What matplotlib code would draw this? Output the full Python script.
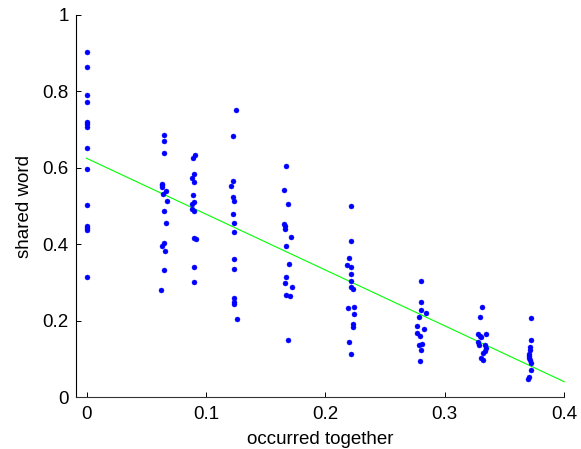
import numpy as np
import matplotlib
matplotlib.use("Agg")
import matplotlib.pyplot as plt

# observed values, one group per "occurred together" level
x0 = [0.0] * 14
y0 = [0.902, 0.864, 0.790, 0.773, 0.720, 0.715, 0.708, 0.653, 0.597,
      0.503, 0.448, 0.442, 0.437, 0.314]

x1 = [0.0649, 0.0649, 0.0649, 0.0632, 0.0632, 0.0632, 0.0668, 0.0640,
      0.0677, 0.0649, 0.0668, 0.0646, 0.0632, 0.0660, 0.0649, 0.0620]
y1 = [0.685, 0.670, 0.638, 0.558, 0.554, 0.550, 0.540, 0.531, 0.514,
      0.487, 0.455, 0.404, 0.396, 0.382, 0.332, 0.281]

x2 = [0.0910, 0.0894, 0.0902, 0.0886, 0.0902, 0.0890, 0.0897, 0.0886,
      0.0886, 0.0902, 0.0899, 0.0919, 0.0896, 0.0904]
y2 = [0.634, 0.626, 0.585, 0.573, 0.563, 0.529, 0.511, 0.506, 0.492,
      0.487, 0.416, 0.413, 0.340, 0.302]

x3 = [0.1250, 0.1225, 0.1225, 0.1214, 0.1225, 0.1233, 0.1225, 0.1233,
      0.1233, 0.1233, 0.1233, 0.1233, 0.1233, 0.1233, 0.1258]
y3 = [0.752, 0.684, 0.566, 0.552, 0.524, 0.513, 0.479, 0.456, 0.432,
      0.361, 0.335, 0.259, 0.250, 0.244, 0.205]

x4 = [0.1673, 0.1657, 0.1684, 0.1657, 0.1665, 0.1665, 0.1713, 0.1673,
      0.1693, 0.1673, 0.1665, 0.1721, 0.1673, 0.1701, 0.1684]
y4 = [0.605, 0.541, 0.505, 0.452, 0.449, 0.441, 0.420, 0.396, 0.349,
      0.314, 0.300, 0.288, 0.267, 0.264, 0.149]

x5 = [0.2219, 0.2219, 0.2202, 0.2183, 0.2219, 0.2219, 0.2211, 0.2219,
      0.2231, 0.2191, 0.2239, 0.2239, 0.2231, 0.2231, 0.2202, 0.2219]
y5 = [0.499, 0.408, 0.364, 0.346, 0.340, 0.322, 0.305, 0.288, 0.284,
      0.234, 0.237, 0.217, 0.193, 0.183, 0.146, 0.113]

x6 = [0.2801, 0.2801, 0.2801, 0.2840, 0.2785, 0.2765, 0.2824, 0.2765,
      0.2793, 0.2785, 0.2812, 0.2801, 0.2793]
y6 = [0.304, 0.249, 0.228, 0.220, 0.209, 0.187, 0.179, 0.169, 0.161,
      0.138, 0.139, 0.123, 0.094]

x7 = [0.3313, 0.3292, 0.3342, 0.3280, 0.3294, 0.3305, 0.3280, 0.3286,
      0.3336, 0.3347, 0.3336, 0.3322, 0.3302, 0.3322]
y7 = [0.237, 0.211, 0.166, 0.165, 0.160, 0.157, 0.144, 0.137, 0.138,
      0.130, 0.120, 0.117, 0.102, 0.098]

x8 = [0.3726, 0.3726, 0.3718, 0.3718, 0.3709, 0.3709, 0.3703, 0.3718,
      0.3726, 0.3726, 0.3709, 0.3698]
y8 = [0.208, 0.149, 0.132, 0.123, 0.114, 0.108, 0.102, 0.098, 0.090,
      0.072, 0.054, 0.048]

# fitted line
fit_intercept = 0.625
fit_slope = -1.46
fit_range = [0.0, 0.4]

x_ticks = [0, 0.1, 0.2, 0.3, 0.4]
x_labels = ["0", "0.1", "0.2", "0.3", "0.4"]
y_ticks = [0, 0.2, 0.4, 0.6, 0.8, 1]
y_labels = ["0", "0.2", "0.4", "0.6", "0.8", "1"]

plt.rcParams['font.family'] = ['Liberation Sans', 'DejaVu Sans']

fig = plt.figure(figsize=(5.81, 4.49), dpi=100)
ax = fig.add_axes([0.130, 0.115, 0.841, 0.852])

xs = np.concatenate([x0, x1, x2, x3, x4, x5, x6, x7, x8])
ys = np.concatenate([y0, y1, y2, y3, y4, y5, y6, y7, y8])
ax.plot(xs, ys, linestyle='none', marker='o', markersize=3.6,
        markerfacecolor='#0000ff', markeredgecolor='#0000ff',
        markeredgewidth=0.3, zorder=3)

fx = np.array(fit_range)
ax.plot(fx, fit_intercept + fit_slope * fx, color='#00ff00', linewidth=0.8,
        zorder=2, clip_on=False)

ax.set_xlim(-0.0092, 0.4)
ax.set_ylim(0, 1)
ax.set_xticks(x_ticks)
ax.set_xticklabels(x_labels)
ax.set_yticks(y_ticks)
ax.set_yticklabels(y_labels)

ax.spines['top'].set_visible(False)
ax.spines['right'].set_visible(False)
ax.spines['left'].set_linewidth(0.8)
ax.spines['bottom'].set_linewidth(0.8)
ax.spines['bottom'].set_color('#333333')
ax.tick_params(direction='in', length=3.6, width=0.7, labelsize=13.5)
ax.tick_params(axis='x', pad=6)
ax.tick_params(axis='y', pad=5)

ax.set_xlabel('occurred together', fontsize=13.5, labelpad=6)
ax.set_ylabel('shared word', fontsize=13.5, labelpad=7)

fig.savefig('out.png', dpi=100)
